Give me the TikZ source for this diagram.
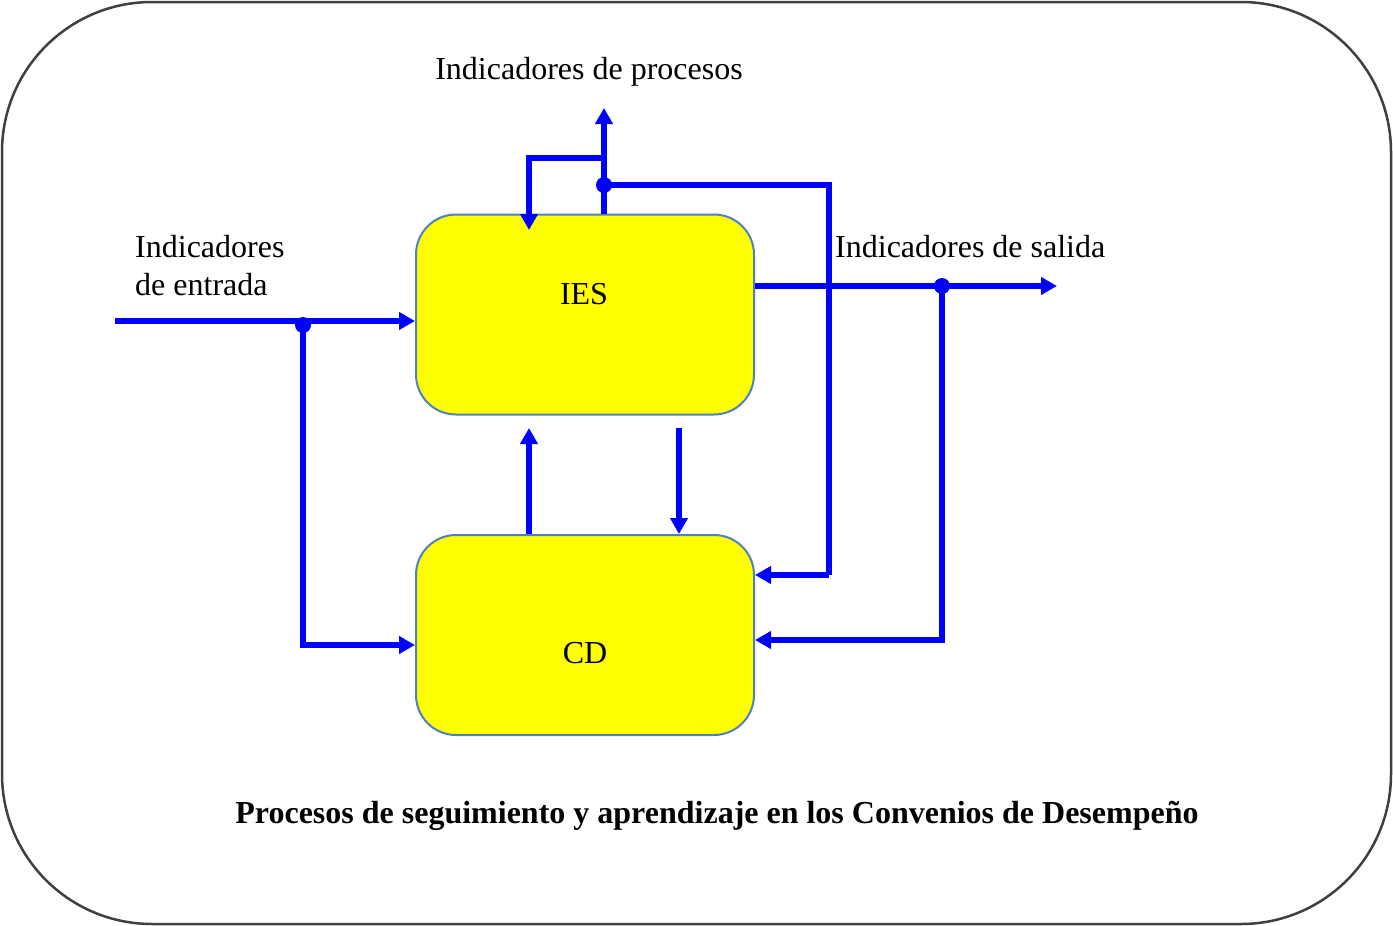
\documentclass[tikz,border=0pt]{standalone}
\usepackage{fontspec}
\setmainfont{Liberation Serif}
\usetikzlibrary{arrows.meta}
\definecolor{boxedge}{RGB}{79,129,189}
\definecolor{frame}{RGB}{64,64,64}
\definecolor{flowblue}{RGB}{0,0,255}
\definecolor{boxfill}{RGB}{255,255,0}
\begin{document}
\begin{tikzpicture}[x=1pt,y=-1pt,
  box/.style={draw=boxedge,line width=2pt,fill=boxfill,rounded corners=40pt,minimum width=338pt,minimum height=200pt,inner sep=0pt,font=\fontsize{32}{38}\selectfont},
  flow/.style={draw=flowblue,line width=5.2pt,line join=miter,-{Triangle[length=16pt,width=17pt]}},
  wire/.style={draw=flowblue,line width=5.2pt,line join=miter},
  dot/.style={circle,fill=flowblue,inner sep=0pt,minimum size=16pt},
  lbl/.style={font=\fontsize{32}{38}\selectfont,inner sep=0pt}]
\useasboundingbox (0,0) rectangle (1393,926);
\draw[frame,line width=2.5pt,rounded corners=150pt] (2,2) rectangle (1391,924);

\node[box] (ies) at (585,314.5) {};
\node[box] (cd) at (585,635) {};
\node[lbl,anchor=base] (iestxt) at (584,304) {IES};
\node[lbl,anchor=base] (cdtxt) at (585,663) {CD};

% labels
\node[lbl,anchor=base] (lproc) at (589,79) {Indicadores de procesos};
\node[lbl,anchor=base west,align=left] (lent) at (135,295) {Indicadores\\de entrada};
\node[lbl,anchor=base west] (lsal) at (835,257) {Indicadores de salida};
\node[lbl,anchor=base,font=\fontsize{32}{38}\selectfont\bfseries] (cap) at (717,823) {Procesos de seguimiento y aprendizaje en los Convenios de Desempeño};

% junction points
\node[dot] (jin) at (303,325) {};
\node[dot] (jtop) at (604,185) {};
\node[dot] (jout) at (942,286) {};
\coordinate (instart) at (115,321);
\coordinate (outend) at (1057,286);
\coordinate (procend) at (604,108);
\coordinate (loopc) at (604,158);
\coordinate (iesbot1) at (529,428);
\coordinate (iesbot2) at (679,428);

% input
\draw[flow] (instart) -- (instart -| ies.west);
\draw[wire] (jin.center) -- (303,321);
\draw[flow] (jin.center) |- (ies.west |- 0,645);

% top / process indicators
\draw[flow] (604,214) -- (procend);
\draw[flow] (loopc) -| (529,230);
\draw[wire] (jtop.center) -| (829,575);
\draw[flow] (829,575) -- (cd.east |- 0,575);

% output
\draw[flow] (ies.east |- 0,286) -- (outend);
\draw[flow] (jout.center) |- (cd.east |- 0,640);

% between boxes
\draw[flow] (cd.north -| iesbot1) -- (iesbot1);
\draw[flow] (iesbot2) -- (cd.north -| iesbot2);
\end{tikzpicture}
\end{document}
